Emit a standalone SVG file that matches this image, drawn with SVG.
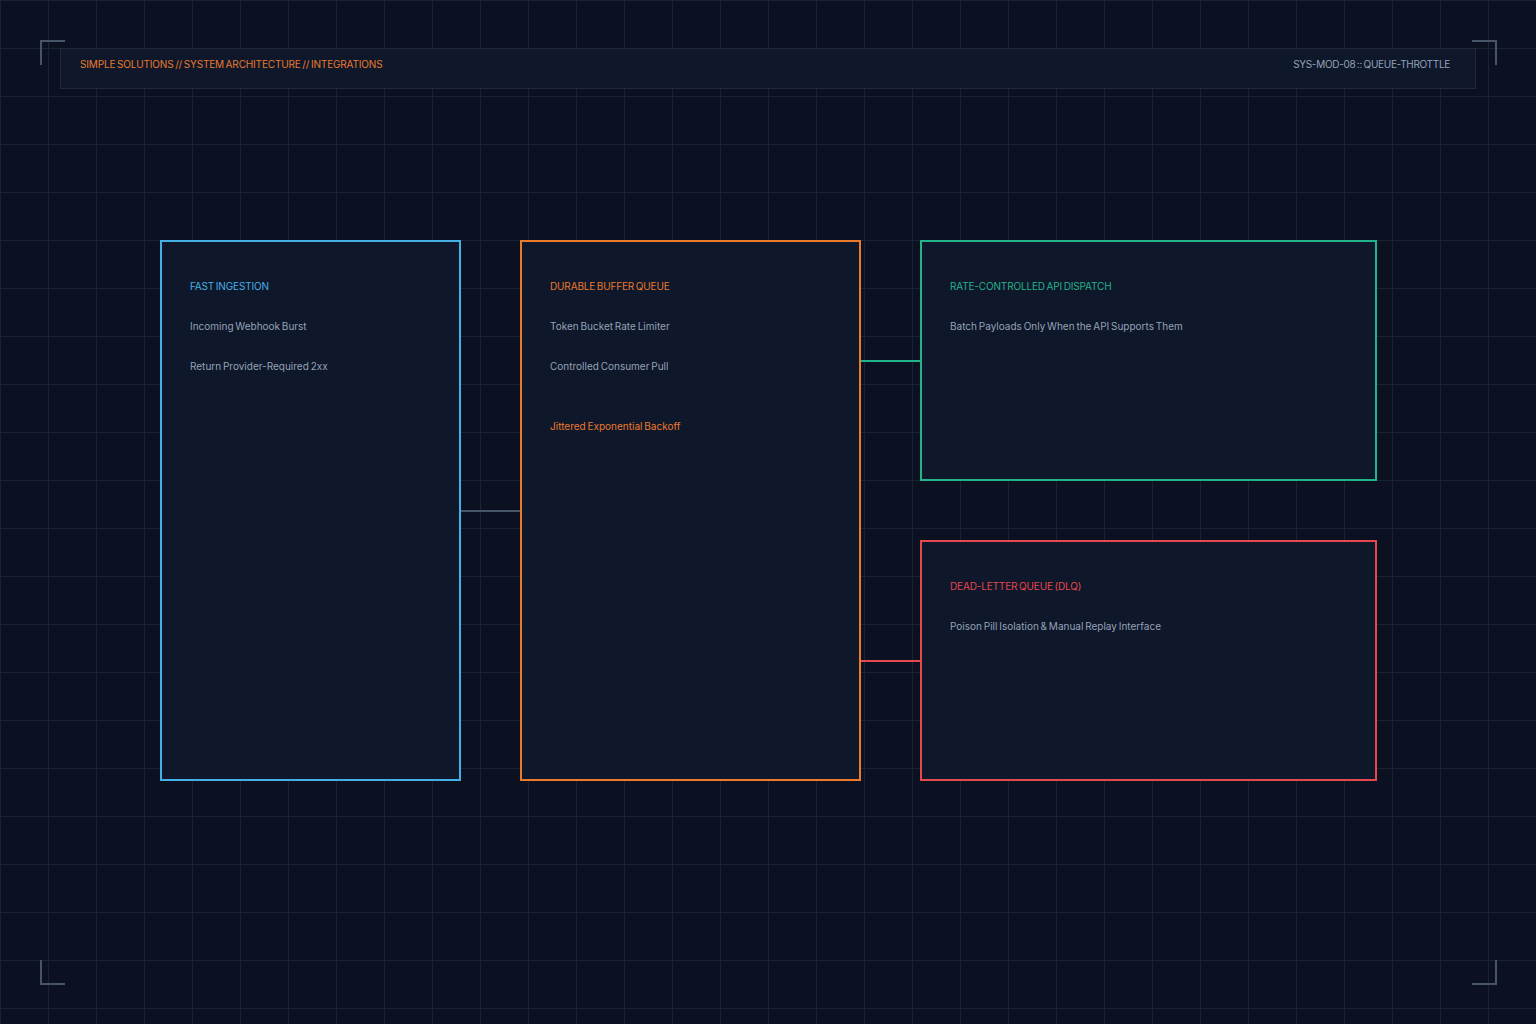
<svg xmlns="http://www.w3.org/2000/svg" width="1536" height="1024" viewBox="0 0 1536 1024">
  <defs>
    <pattern id="grid" x="0" y="0" width="48" height="48" patternUnits="userSpaceOnUse">
      <path d="M 0 0.5 H 48 M 0.5 0 V 48" fill="none" stroke="#1a2335" stroke-width="1"/>
    </pattern>
    <style>
      .txt { font-family: "Inter", "Liberation Sans", sans-serif; font-size: 10px; word-spacing: -1px; }
      .title { letter-spacing: -0.15px; }
      .body { fill: #94a3b8; }
      .box { fill: #0f172a; stroke-width: 2; }
      .corner { fill: none; stroke: #475569; stroke-width: 2; }
      .conn { fill: none; stroke-width: 2; }
    </style>
  </defs>
  <rect width="1536" height="1024" fill="#0b1120"/>
  <rect width="1536" height="1024" fill="url(#grid)"/>

  <g id="frame">
    <path class="corner" d="M 41 65 V 41 H 65"/>
    <path class="corner" d="M 1472 41 H 1496 V 65"/>
    <path class="corner" d="M 41 960 V 984 H 65"/>
    <path class="corner" d="M 1472 984 H 1496 V 960"/>
  </g>

  <g id="header">
    <rect x="60.5" y="48.5" width="1415" height="40" fill="#0f172a" stroke="#1e293b" stroke-width="1"/>
    <text class="txt title" x="80" y="68" fill="#ea7a2c">SIMPLE SOLUTIONS // SYSTEM ARCHITECTURE // INTEGRATIONS</text>
    <text class="txt" x="1450" y="68" fill="#94a3b8" text-anchor="end" letter-spacing="-0.3">SYS-MOD-08 :: QUEUE-THROTTLE</text>
  </g>

  <g id="connectors">
    <line class="conn" x1="460" y1="511" x2="520" y2="511" stroke="#475569"/>
    <line class="conn" x1="860" y1="361" x2="920" y2="361" stroke="#22b38a"/>
    <line class="conn" x1="860" y1="661" x2="920" y2="661" stroke="#e5484d"/>
  </g>

  <g id="node-ingestion">
    <rect class="box" x="161" y="241" width="299" height="539" stroke="#45b0e6"/>
    <text class="txt title" x="190" y="290" fill="#45b0e6">FAST INGESTION</text>
    <text class="txt body" x="190" y="330">Incoming Webhook Burst</text>
    <text class="txt body" x="190" y="370">Return Provider-Required 2xx</text>
  </g>

  <g id="node-buffer">
    <rect class="box" x="521" y="241" width="339" height="539" stroke="#ea7a2c"/>
    <text class="txt title" x="550" y="290" fill="#ea7a2c">DURABLE BUFFER QUEUE</text>
    <text class="txt body" x="550" y="330">Token Bucket Rate Limiter</text>
    <text class="txt body" x="550" y="370">Controlled Consumer Pull</text>
    <text class="txt" x="550" y="430" fill="#ea7a2c">Jittered Exponential Backoff</text>
  </g>

  <g id="node-dispatch">
    <rect class="box" x="921" y="241" width="455" height="239" stroke="#22b38a"/>
    <text class="txt title" x="950" y="290" fill="#22b38a">RATE-CONTROLLED API DISPATCH</text>
    <text class="txt body" x="950" y="330">Batch Payloads Only When the API Supports Them</text>
  </g>

  <g id="node-dlq">
    <rect class="box" x="921" y="541" width="455" height="239" stroke="#e5484d"/>
    <text class="txt title" x="950" y="590" fill="#e5484d">DEAD-LETTER QUEUE (DLQ)</text>
    <text class="txt body" x="950" y="630">Poison Pill Isolation &amp; Manual Replay Interface</text>
  </g>
</svg>
